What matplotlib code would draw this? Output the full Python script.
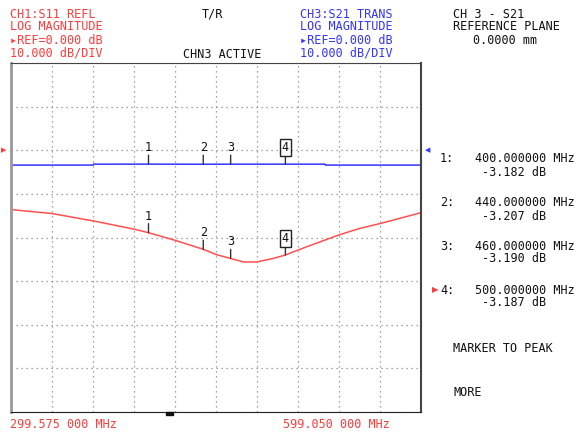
import numpy as np
import matplotlib
matplotlib.use("Agg")
import matplotlib.pyplot as plt
from matplotlib.transforms import offset_copy

# ---- data ----
f_start = 299.575
f_stop = 599.050

s11_freq = [299.575, 329.3, 359.7, 389.7, 400.0, 418.9, 440.0, 449.3, 460.0, 469.3,
            479.0, 491.2, 500.0, 509.0, 525.3, 539.2, 554.5, 569.1, 583.7, 599.05]
s11_db = [-13.6, -14.5, -16.2, -18.1, -18.9, -20.6, -22.7, -23.9, -24.8, -25.6,
          -25.6, -24.8, -24.0, -22.9, -21.0, -19.4, -17.9, -16.8, -15.6, -14.3]

s21_freq = [299.575, 359.5, 359.8, 400.0, 440.0, 460.0, 500.0, 529.0, 529.3, 599.05]
s21_db = [-3.40, -3.40, -3.19, -3.182, -3.207, -3.190, -3.187, -3.19, -3.40, -3.40]

marker_freqs = [400.0, 440.0, 460.0, 500.0]
marker_labels = ["1", "2", "3", "4"]
marker_vals = ["-3.182 dB", "-3.207 dB", "-3.190 dB", "-3.187 dB"]
marker_freq_txt = ["400.000000 MHz", "440.000000 MHz", "460.000000 MHz", "500.000000 MHz"]

ref_db = 0.0
db_per_div = 10.0
n_ydiv = 8
ref_pos = 6  # divisions from bottom

RED = "#ff3b3b"
BLUE = "#3434ff"
FONT = "DejaVu Sans Mono"
FS = 8.5

W, H = 577, 433
fig = plt.figure(figsize=(W / 100, H / 100), dpi=100)
fig.patch.set_facecolor("white")

def fx(px):
    return px / W

def fy(py):
    return 1 - py / H

ax = fig.add_axes([fx(11), fy(412), fx(421) - fx(11), fy(63) - fy(412)])
ax.set_xlim(f_start, f_stop)
ymin = ref_db - ref_pos * db_per_div
ymax = ymin + n_ydiv * db_per_div
ax.set_ylim(ymin, ymax)
ax.set_xticks(np.linspace(f_start, f_stop, 11))
ax.set_yticks(np.arange(ymin, ymax + 0.1, db_per_div))
ax.grid(True, color="#888888", linestyle=(0, (1, 3)), linewidth=0.9)
ax.tick_params(length=0, labelbottom=False, labelleft=False)
ax.spines["left"].set_color("#999999")
ax.spines["left"].set_linewidth(2)
ax.spines["top"].set_color("#444444")
ax.spines["right"].set_color("#444444")
ax.spines["right"].set_linewidth(1.5)
ax.spines["bottom"].set_color("#222222")

ax.plot(s21_freq, s21_db, color=BLUE, lw=1.1)
ax.plot(s11_freq, s11_db, color="#ff5050", lw=1.1)

# markers
tick_tr = offset_copy(ax.transData, fig=fig, x=0, y=0, units="dots")
for trace_f, trace_d in [(s21_freq, s21_db), (s11_freq, s11_db)]:
    for mf, lab in zip(marker_freqs, marker_labels):
        v = np.interp(mf, trace_f, trace_d)
        top_tr = offset_copy(ax.transData, fig=fig, x=0, y=9, units="dots")
        ax.plot([mf, mf], [v, v], transform=ax.transData, alpha=0)
        ax.annotate("", xy=(mf, v), xytext=(0, 9), textcoords="offset pixels",
                    arrowprops=dict(arrowstyle="-", color="#333333", lw=1,
                                    shrinkA=0, shrinkB=0))
        bbox = None
        if lab == "4":
            bbox = dict(boxstyle="square,pad=0.15", fc="white", ec="#222222", lw=1)
        ax.annotate(lab, xy=(mf, v), xytext=(0, 10), textcoords="offset pixels",
                    ha="center", va="bottom", fontsize=FS, family=FONT,
                    color="#111111", bbox=bbox)

# reference arrows
fig.text(fx(1), fy(150), "\u25b6", color=RED, fontsize=5, va="center", ha="left",
         family="DejaVu Sans")
fig.text(fx(430), fy(150), "\u25c0", color=BLUE, fontsize=5, va="center", ha="right",
         family="DejaVu Sans")

# bottom small mark
fig.patches.append(matplotlib.patches.Rectangle((fx(166), fy(415)), fx(7), 3 / H,
                                                transform=fig.transFigure,
                                                color="#111111"))

def t(x, y, s, color="#111111", **kw):
    fig.text(fx(x), fy(y), s, color=color, fontsize=FS, family=FONT,
             va="center", ha="left", **kw)

# header left (CH1)
t(10, 14, "CH1:S11 REFL", RED)
t(10, 27, "LOG MAGNITUDE", RED)
t(10, 40, "\u25b8REF=0.000 dB", RED)
t(10, 53, "10.000 dB/DIV", RED)
t(202, 14, "T/R")
t(183, 55, "CHN3 ACTIVE")

# header CH3
t(300, 14, "CH3:S21 TRANS", BLUE)
t(300, 27, "LOG MAGNITUDE", BLUE)
t(300, 40, "\u25b8REF=0.000 dB", BLUE)
t(300, 53, "10.000 dB/DIV", BLUE)

# right panel
t(453, 14, "CH 3 - S21")
t(453, 27, "REFERENCE PLANE")
t(473, 41, "0.0000 mm")

ys = [159, 203, 246, 290]
for y, lab, ftxt, vtxt in zip(ys, marker_labels, marker_freq_txt, marker_vals):
    t(440, y, lab + ":")
    t(475, y, ftxt)
    t(482, y + 13, vtxt)
fig.text(fx(432), fy(290), "\u25b6", color=RED, fontsize=6, va="center", ha="left",
         family="DejaVu Sans")

t(453, 349, "MARKER TO PEAK")
t(453, 393, "MORE")

# bottom freq labels
t(10, 425, "299.575 000 MHz", RED)
t(283, 425, "599.050 000 MHz", RED)

fig.savefig("out.png", dpi=100, facecolor="white")
